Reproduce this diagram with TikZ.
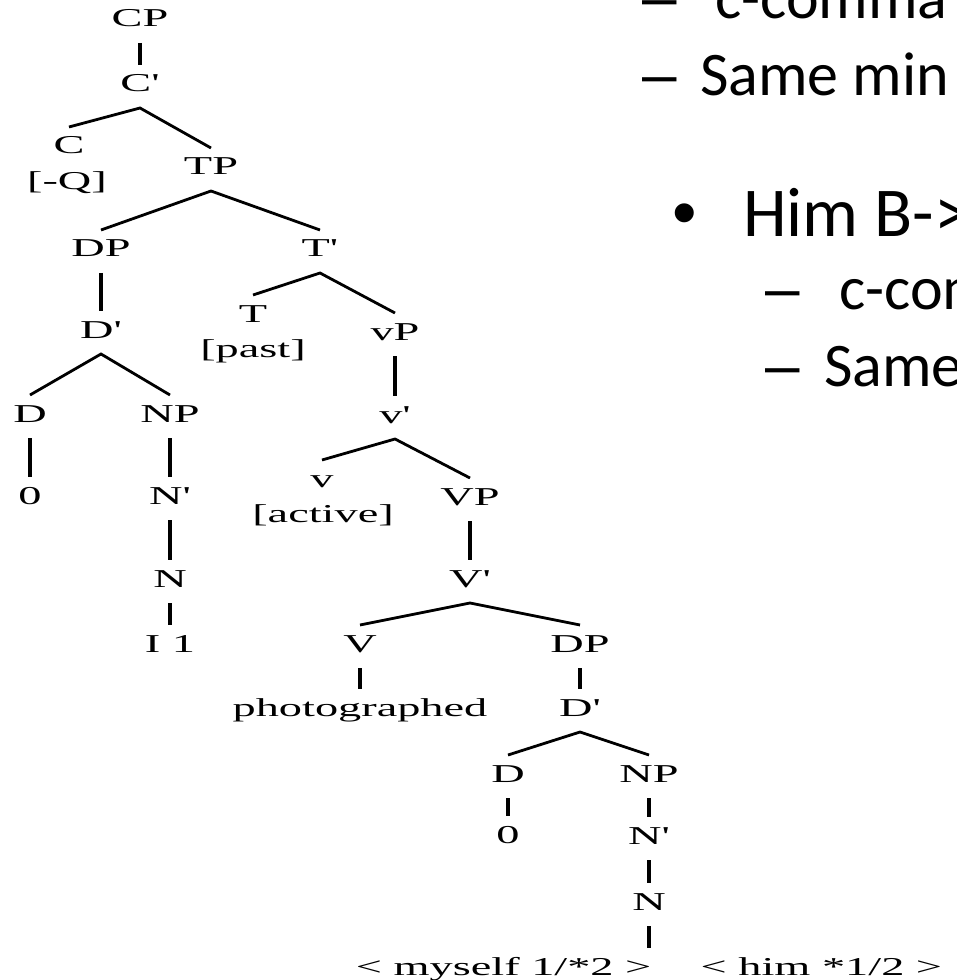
\documentclass[tikz,border=0pt]{standalone}
\usepackage{fontspec}
\newfontfamily\treefont[FakeStretch=1.8,Ligatures=TeXOff]{Liberation Serif}
\newfontfamily\slidefont{Carlito}
\newfontfamily\bulfont{Liberation Sans}
\begin{document}
\begin{tikzpicture}[x=0.75pt,y=-0.75pt,
  lab/.style={font=\treefont\fontsize{19.3pt}{23pt}\selectfont, anchor=base, inner xsep=1pt, inner ysep=7.5pt, text height=12.75pt, text depth=4.5pt, outer sep=0pt},
  feat/.style={font=\treefont\fontsize{19.3pt}{23pt}\selectfont, anchor=base, inner sep=0pt},
  uni/.style={line width=3.2pt},
  bin/.style={line width=2.1pt},
  lvltwo/.style={font=\slidefont\fontsize{46.5pt}{56pt}\selectfont, anchor=base west, inner sep=0pt},
  lvlone/.style={font=\slidefont\fontsize{52.5pt}{63pt}\selectfont, anchor=base west, inner sep=0pt},
  dashtwo/.style={font=\bulfont\fontsize{46.5pt}{56pt}\selectfont, anchor=base west, inner sep=0pt},
  dotone/.style={font=\bulfont\fontsize{52.5pt}{63pt}\selectfont, anchor=base west, inner sep=0pt}]
\path[use as bounding box] (0,0) rectangle (956,980);
\clip (0,0) rectangle (956,980);
\fill[white] (0,0) rectangle (956,980);

% tree nodes
\node[lab] (cp) at (140,27) {CP};
\node[lab] (cbar) at (140,92) {C'};
\node[lab] (c) at (69,154) {C};
\node[feat] (cq) at (67,190) {[-Q]};
\node[lab] (tp) at (211,175) {TP};
\node[lab] (dp) at (101,257) {DP};
\node[lab] (tbar) at (320,257) {T'};
\node[lab] (dbar) at (101,338) {D'};
\node[lab] (t) at (253,322) {T};
\node[feat] (tpast) at (253,357) {[past]};
\node[lab] (vp) at (395,340) {vP};
\node[lab] (da) at (30,422) {D};
\node[lab] (npa) at (170,422) {NP};
\node[lab] (vbar) at (395,423) {v'};
\node[lab] (zeroa) at (30,504) {0};
\node[lab] (nbara) at (170,504) {N'};
\node[lab] (v) at (322,487) {v};
\node[feat] (vact) at (323,522) {[active]};
\node[lab] (bigvp) at (470,505) {VP};
\node[lab] (bigvbar) at (470,587) {V'};
\node[lab] (na) at (170,587) {N};
\node[lab] (ia) at (170,652) {I 1};
\node[lab] (bigv) at (360,652) {V};
\node[lab] (dpb) at (580,652) {DP};
\node[lab] (photo) at (360,716) {photographed};
\node[lab] (dbarb) at (580,716) {D'};
\node[lab] (db) at (508,782) {D};
\node[lab] (npb) at (649,782) {NP};
\node[lab] (zerob) at (508,843) {0};
\node[lab] (nbarb) at (649,844) {N'};
\node[lab] (nb) at (649,910) {N};
\node[lab] (leaf) at (649,975) {< myself 1/*2 >\hspace{37pt}< him *1/2 >};

% unary branches
\draw[uni] (cp.south) -- (cbar.north);
\draw[uni] (dp.south) -- (dbar.north);
\draw[uni] (vp.south) -- (vbar.north);
\draw[uni] (bigvp.south) -- (bigvbar.north);
\draw[uni] (da.south) -- (zeroa.north);
\draw[uni] (npa.south) -- (nbara.north);
\draw[uni] (nbara.south) -- (na.north);
\draw[uni] (na.south) -- (ia.north);
\draw[uni] (bigv.south) -- (photo.north);
\draw[uni] (dpb.south) -- (dbarb.north);
\draw[uni] (db.south) -- (zerob.north);
\draw[uni] (npb.south) -- (nbarb.north);
\draw[uni] (nbarb.south) -- (nb.north);
\draw[uni] (nb.south) -- (leaf.north);

% binary branches
\draw[bin] (c.north) -- (cbar.south) -- (tp.north);
\draw[bin] (dp.north) -- (tp.south) -- (tbar.north);
\draw[bin] (t.north) -- (tbar.south) -- (vp.north);
\draw[bin] (da.north) -- (dbar.south) -- (npa.north);
\draw[bin] (v.north) -- (vbar.south) -- (bigvp.north);
\draw[bin] (bigv.north) -- (bigvbar.south) -- (dpb.north);
\draw[bin] (db.north) -- (dbarb.south) -- (npb.north);

% slide text (clipped at the right edge)
\node[dashtwo] (dsha) at (642,19) {–};
\node[lvltwo] (txta) at (715,19) {c-comma};
\node[dashtwo] (dshb) at (642,96) {–};
\node[lvltwo] (txtb) at (700,96) {Same min};
\node[dotone] (bul) at (672,237) {•};
\node[lvlone] (txtc) at (743,237) {Him B->};
\node[dashtwo] (dshc) at (765,310) {–};
\node[lvltwo] (txtd) at (839,310) {c-com};
\node[dashtwo] (dshd) at (765,386) {–};
\node[lvltwo] (txte) at (824,386) {Same};
\end{tikzpicture}
\end{document}
